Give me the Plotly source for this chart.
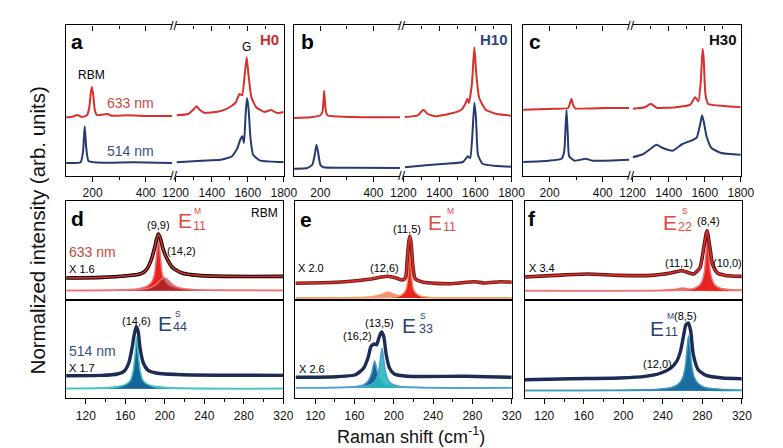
import plotly.graph_objects as go

W, H = 783, 448

# ---------------- DATA ----------------
# Top panels: Raman shift (cm-1) vs normalized intensity (arb. units); low- and high-frequency segments
a_red_lo_x = [100, 124, 142, 160, 178.5, 187, 193, 197, 202, 208, 216, 257.5, 269.5, 330, 415, 500]
a_red_lo_y = [58.4, 59, 60.7, 58.7, 60.4, 67.7, 82.7, 88.7, 81, 66, 60.7, 61.7, 60, 60.4, 59.7, 59.7]
a_red_hi_x = [1206, 1270, 1297, 1316, 1333, 1360, 1432, 1486, 1531, 1554, 1569, 1581, 1594, 1604, 1620, 1647, 1692, 1728, 1764, 1800]
a_red_hi_y = [60.4, 61.7, 66, 69.4, 66, 63, 64, 67, 72.7, 81.7, 80.4, 97.7, 118.4, 101, 78.4, 68.4, 63.7, 65.7, 62.7, 63.7]
a_blue_lo_x = [100, 154.5, 164, 170, 176, 185, 245.5, 354.5, 500]
a_blue_lo_y = [12.7, 13.4, 24.4, 49.4, 27.7, 14.4, 13, 13.4, 12.7]
a_blue_hi_x = [1206, 1343, 1450, 1513, 1543, 1558, 1570, 1579, 1588, 1595.5, 1604, 1615, 1629.5, 1665.5, 1773, 1800]
a_blue_hi_y = [13.4, 15, 16, 19.4, 27.7, 36, 39.4, 32.7, 61, 77.7, 67.7, 37.7, 21, 15.4, 13.7, 13.7]

b_red_lo_x = [100, 163.6, 200, 208.5, 214.5, 219.3, 226.5, 321, 500]
b_red_lo_y = [57.7, 58.4, 60.4, 64.4, 85, 67.7, 60.4, 58.7, 58.4]
b_red_hi_x = [1209, 1281, 1311, 1335, 1379, 1469, 1522, 1546, 1555, 1563.5, 1580, 1594, 1605, 1621, 1657, 1719, 1800]
b_red_hi_y = [58.7, 60.4, 66, 61.7, 59.4, 62.4, 66, 72.7, 77, 72.7, 91, 128.4, 101, 77.7, 66, 61.7, 60]
b_blue_lo_x = [100, 151.5, 170, 179, 185.5, 191.6, 200, 212, 321, 500]
b_blue_lo_y = [7, 7.7, 11, 21, 31, 23.7, 11, 8.4, 8, 7.7]
b_blue_hi_x = [1209, 1326, 1433, 1531, 1558, 1571, 1583, 1594, 1603, 1614, 1639, 1719, 1800]
b_blue_hi_y = [8.4, 10.4, 12, 13.7, 19.4, 17.7, 41, 72.7, 57.7, 21, 12, 9.7, 9]

c_red_lo_x = [100, 221, 270, 277, 282, 288, 296, 403, 500]
c_red_lo_y = [66, 67, 67.7, 72.7, 77, 71, 67.4, 67.7, 67.7]
c_red_hi_x = [1200, 1269, 1300, 1332, 1440, 1520, 1547, 1565, 1578, 1588, 1594, 1604, 1619, 1709, 1800]
c_red_hi_y = [67, 68.4, 72, 68, 68.4, 71, 78.4, 74.4, 94.4, 127, 117.7, 81, 71.7, 69.7, 68.4]
c_blue_lo_x = [100, 197, 245.5, 255, 260, 263.6, 268.5, 273.5, 294, 336, 361, 500]
c_blue_lo_y = [13.7, 15, 17, 24.4, 47.7, 66, 41, 19.4, 15, 17, 15, 16]
c_blue_hi_x = [1200, 1260, 1305, 1332, 1368, 1422, 1476, 1529, 1556, 1574, 1585, 1594, 1610, 1637, 1691, 1800]
c_blue_hi_y = [18.4, 21.7, 27.7, 31, 27.7, 25, 31.7, 35.4, 38.4, 51, 60.4, 54.4, 39.4, 27.7, 22.7, 21]

# Bottom panels (RBM region): measured spectra (envelopes) and fitted Lorentzian components
d_up_x = [100, 135.8, 161.9, 174.9, 181.4, 186.3, 189.6, 191.9, 193.5, 195.4, 198.4, 202.7, 207.6, 217.3, 233.6, 266.2, 320]
d_up_y = [12.7, 13.3, 15, 16.7, 21, 31, 42.7, 52.7, 56.7, 52.7, 41, 31, 23.3, 17.7, 15.3, 14.3, 14.3]
d_c99_x = [100, 160, 175, 183, 187, 189.5, 191.5, 193.5, 195.5, 197.5, 200, 204, 212, 227, 320]
d_c99_y = [0.3, 1, 2.3, 5, 9, 16, 34, 52, 34, 16, 9, 5, 2.3, 1, 0.3]
d_c142_x = [100, 170, 185, 191, 195, 199.5, 204, 208, 214, 230, 320]
d_c142_y = [0.2, 1, 3, 6, 10, 13, 10, 6, 3, 1, 0.2]
d_lo_x = [100, 135.8, 152.1, 158.6, 163.5, 166.8, 169, 171, 173, 174.9, 178.2, 183.1, 191.2, 217.3, 320]
d_lo_y = [13, 13.3, 14.7, 17.3, 25.7, 40.7, 54, 62.3, 57.3, 40.7, 25.7, 18.3, 15.7, 14, 13.3]
d_cbg_x = [100, 140, 155, 165, 172, 179, 189, 205, 320]
d_cbg_y = [0.3, 1, 2.5, 4, 5, 4, 2.5, 1, 0.3]
d_c146_x = [100, 150, 160, 165, 168, 170, 171.5, 173, 175, 178, 183, 193, 320]
d_c146_y = [0.2, 1.3, 4, 8, 18, 36, 52, 36, 18, 8, 4, 1.3, 0.2]

e_up_x = [100, 141.6, 174.4, 187.4, 194, 202.2, 208.7, 212, 213.6, 215.3, 216.3, 217.6, 219.3, 221.8, 230.1, 256.2, 282.4, 292.2, 308.6, 320]
e_up_y = [14.7, 15.7, 18.7, 21, 21.7, 20, 18, 20.7, 38.3, 56.7, 61.7, 55, 33.3, 19.3, 15.7, 14.3, 16.3, 15, 16.3, 15.7]
e_c126_x = [100, 170, 182, 188, 194, 200, 206, 218, 320]
e_c126_y = [0.1, 0.8, 2, 3.8, 6, 3.8, 2, 0.8, 0.1]
e_c115_x = [100, 195, 205, 210, 212.5, 214.3, 215.3, 216.3, 217.3, 218.3, 220.1, 222.6, 227.6, 237.6, 320]
e_c115_y = [0.1, 0.6, 1.9, 5, 9, 21, 39, 61, 39, 21, 9, 5, 1.9, 0.6, 0.1]
e_lo_x = [100, 141.6, 161.2, 169.4, 173.7, 176.9, 180.2, 182.5, 184.8, 187.4, 189.7, 192.3, 195.6, 200.5, 213.6, 272.5, 320]
e_lo_y = [10.7, 11.3, 13.3, 20, 30, 41.7, 44, 43.3, 50, 56, 51.7, 33.3, 20, 14, 11.7, 11.7, 10.7]
e_c162_x = [100, 160, 170, 174.5, 177.5, 179, 180.5, 182, 183.5, 186.5, 191, 201, 320]
e_c162_y = [0.2, 1.2, 3.5, 8, 15, 22, 27, 22, 15, 8, 3.5, 1.2, 0.2]
e_c135_x = [100, 170, 178, 182, 184.5, 186.5, 188, 189.5, 191.5, 194, 198, 206, 320]
e_c135_y = [0.2, 1.5, 4, 8.5, 16, 30, 40, 30, 16, 8.5, 4, 1.5, 0.2]

f_up_x = [100, 131, 163.5, 196, 228.6, 248.1, 259.5, 270.9, 277.4, 281.3, 284.6, 287.2, 290.4, 295.3, 303.4, 319.7]
f_up_y = [13.7, 15.3, 16.7, 15.3, 15.3, 17.7, 20, 16.7, 22.7, 42.7, 60, 46, 26, 17.7, 15.3, 14.3]
f_c111_x = [100, 240, 250, 255, 260, 265, 270, 280, 320]
f_c111_y = [0.05, 0.5, 1.1, 1.8, 2.7, 1.8, 1.1, 0.5, 0.1]
f_c84_x = [100, 262, 272, 277, 280, 282, 283.6, 285, 286.4, 288, 290, 293, 298, 308, 320]
f_c84_y = [0.1, 0.8, 2.5, 5.5, 10.5, 19, 37, 59, 37, 19, 10.5, 5.5, 2.5, 0.8, 0.4]
f_c100_x = [270, 285, 292, 297, 302, 309, 320]
f_c100_y = [0.3, 0.9, 1.6, 2.5, 1.6, 0.9, 0.4]
f_lo_x = [100, 147.2, 196, 222, 238.2, 248.1, 253.9, 257.8, 261.1, 263.3, 265.9, 268.2, 270.8, 275.7, 283.8, 300.1, 319.7]
f_lo_y = [11, 12, 12.7, 14.3, 17.7, 22.7, 29.3, 39.3, 56, 66, 67.7, 59.3, 36, 21, 15.3, 12.7, 12]
f_c120_x = [100, 230, 244, 250, 256, 262, 268, 282, 320]
f_c120_y = [0.1, 0.8, 2, 3.5, 5.5, 3.5, 2, 0.8, 0.2]
f_c85_x = [100, 235, 250, 257, 260.5, 263, 264.8, 266, 267.2, 269, 271.5, 275, 282, 297, 320]
f_c85_y = [0.2, 1.5, 3.5, 8, 14, 26, 45, 55, 45, 26, 14, 8, 3.5, 1.5, 0.5]

lo_ticks = [200, 400]
lo_minor = [300]
hi_ticks = [1200, 1400, 1600, 1800]
hi_minor = [1300, 1500, 1700]
rbm_ticks = [120, 160, 200, 240, 280, 320]
rbm_minor = [140, 180, 220, 260, 300]

# ---------------- STYLE ----------------
FONT = "Arial, Liberation Sans, sans-serif"
RED = "#d9302c"
BLUE = "#253b70"
FILL_RED = "rgba(232,36,32,1)"
LW = 1.4


def ak(c, n):
    return f"{c}axis" if n == 1 else f"{c}axis{n}"


def rf(c, n):
    return c if n == 1 else f"{c}{n}"


fig = go.Figure()
layout = {}

TOP_PY0, TOP_PY1 = 17.3, 167.7
top_starts = [46.7, 282.5, 520.0]
SEG_L, GAP, SEG_R = 110.0, 3.5, 112.0
top_range = [0, 150.4]

axis_common = dict(showgrid=False, zeroline=False, linecolor="black", linewidth=LW,
                   tickcolor="black", tickwidth=1,
                   tickfont=dict(family=FONT, size=12, color="#111"))

top_data = [
    (a_red_lo_x, a_red_lo_y, a_red_hi_x, a_red_hi_y, a_blue_lo_x, a_blue_lo_y, a_blue_hi_x, a_blue_hi_y),
    (b_red_lo_x, b_red_lo_y, b_red_hi_x, b_red_hi_y, b_blue_lo_x, b_blue_lo_y, b_blue_hi_x, b_blue_hi_y),
    (c_red_lo_x, c_red_lo_y, c_red_hi_x, c_red_hi_y, c_blue_lo_x, c_blue_lo_y, c_blue_hi_x, c_blue_hi_y),
]

breaks = []
for i, s in enumerate(top_starts):
    xl, xr, xlt, xrt = 1 + 4 * i, 2 + 4 * i, 3 + 4 * i, 4 + 4 * i
    yl, yr = 1 + 2 * i, 2 + 2 * i
    dl = [s / W, (s + SEG_L) / W]
    dr = [(s + SEG_L + GAP) / W, (s + SEG_L + GAP + SEG_R) / W]
    dy = [1 - TOP_PY1 / H, 1 - TOP_PY0 / H]
    breaks.append(s + SEG_L + GAP / 2)
    for (n, dom, yn, rng, tv, mv) in [(xl, dl, yl, [100, 500], lo_ticks, lo_minor),
                                      (xr, dr, yr, [1200, 1800], hi_ticks, hi_minor)]:
        layout[ak("x", n)] = dict(axis_common, domain=dom, anchor=rf("y", yn), range=rng,
                                  tickmode="array", tickvals=tv, ticks="outside", ticklen=5,
                                  minor=dict(tickvals=mv, ticks="outside", ticklen=3, tickcolor="black"),
                                  showline=True, ticklabelstandoff=1)
    for (n, base, yn, rng, tv, mv) in [(xlt, xl, yl, [100, 500], lo_ticks, lo_minor),
                                       (xrt, xr, yr, [1200, 1800], hi_ticks, hi_minor)]:
        layout[ak("x", n)] = dict(axis_common, overlaying=rf("x", base), anchor=rf("y", yn), side="top",
                                  range=rng, tickmode="array", tickvals=tv, ticks="inside", ticklen=5,
                                  minor=dict(tickvals=mv, ticks="inside", ticklen=3, tickcolor="black"),
                                  showticklabels=False, showline=True)
        fig.add_trace(go.Scatter(x=[], y=[], xaxis=rf("x", n), yaxis=rf("y", yn), showlegend=False))
    layout[ak("y", yl)] = dict(axis_common, domain=dy, anchor=rf("x", xl), range=top_range,
                               showline=True, showticklabels=False, ticks="")
    layout[ak("y", yr)] = dict(axis_common, domain=dy, anchor=rf("x", xr), range=top_range, side="right",
                               showline=True, showticklabels=False, ticks="")
    rlx, rly, rhx, rhy, blx, bly, bhx, bhy = top_data[i]
    for (xs, ys, c, xn, yn) in [(rlx, rly, RED, xl, yl), (rhx, rhy, RED, xr, yr),
                                (blx, bly, BLUE, xl, yl), (bhx, bhy, BLUE, xr, yr)]:
        fig.add_trace(go.Scatter(x=xs, y=ys, mode="lines", line=dict(color=c, width=2, shape="spline", smoothing=0.45),
                                 xaxis=rf("x", xn), yaxis=rf("y", yn), showlegend=False, hoverinfo="skip"))

# Bottom panels
bot_x = [(46.7, 271.7), (284.3, 508.3), (521.5, 746.7)]
UP_PY0, MID_PY, LO_PY1 = 193.3, 291.7, 390.0
up_ranges = [[-9, 89.4], [-1.7, 96.7], [-9, 89.4]]
lo_ranges = [[-9.3, 89], [-10, 88.3], [-7.3, 91]]

bottom = [
    dict(up=(d_up_x, d_up_y, "black", RED),
         up_comps=[(d_c99_x, d_c99_y, FILL_RED, "#f07070"), (d_c142_x, d_c142_y, "rgba(150,35,35,0.6)", "#f07070")],
         lo=(d_lo_x, d_lo_y),
         lo_comps=[(d_cbg_x, d_cbg_y, "rgba(43,181,181,0.85)", "#3cc4c4"), (d_c146_x, d_c146_y, "rgba(24,100,152,1)", "#3cc4c4")]),
    dict(up=(e_up_x, e_up_y, "#7a1b1b", RED),
         up_comps=[(e_c126_x, e_c126_y, "rgba(240,130,110,0.9)", "#f4a070"), (e_c115_x, e_c115_y, FILL_RED, "#f4a070")],
         lo=(e_lo_x, e_lo_y),
         lo_comps=[(e_c162_x, e_c162_y, "rgba(24,96,152,1)", "#4a9fd0"), (e_c135_x, e_c135_y, "rgba(40,185,185,0.9)", "#4a9fd0")]),
    dict(up=(f_up_x, f_up_y, "#5a1515", RED),
         up_comps=[(f_c111_x, f_c111_y, "rgba(240,110,100,0.9)", "#f07070"), (f_c100_x, f_c100_y, "rgba(240,110,100,0.9)", "#f07070"),
                   (f_c84_x, f_c84_y, FILL_RED, "#f07070")],
         lo=(f_lo_x, f_lo_y),
         lo_comps=[(f_c120_x, f_c120_y, "rgba(40,185,185,0.9)", "#3a9ab8"), (f_c85_x, f_c85_y, "rgba(26,108,162,1)", "#3a9ab8")]),
]

for i, (x0, x1) in enumerate(bot_x):
    xu, xd = 13 + 2 * i, 14 + 2 * i
    yu, yd = 7 + 2 * i, 8 + 2 * i
    dom = [x0 / W, x1 / W]
    layout[ak("x", xu)] = dict(axis_common, domain=dom, anchor=rf("y", yu), range=[100, 320], showline=True,
                               mirror=True, showticklabels=False, ticks="")
    layout[ak("x", xd)] = dict(axis_common, domain=dom, anchor=rf("y", yd), range=[100, 320], showline=True,
                               mirror=True, tickmode="array", tickvals=rbm_ticks, ticks="outside", ticklen=5,
                               minor=dict(tickvals=rbm_minor, ticks="outside", ticklen=3, tickcolor="black"),
                               ticklabelstandoff=1)
    layout[ak("y", yu)] = dict(axis_common, domain=[1 - MID_PY / H, 1 - UP_PY0 / H], anchor=rf("x", xu),
                               range=up_ranges[i], showline=True, mirror=True, showticklabels=False, ticks="")
    layout[ak("y", yd)] = dict(axis_common, domain=[1 - LO_PY1 / H, 1 - MID_PY / H], anchor=rf("x", xd),
                               range=lo_ranges[i], showline=True, mirror=True, showticklabels=False, ticks="")
    p = bottom[i]
    for (cx, cy, fc, lc) in p["up_comps"]:
        fig.add_trace(go.Scatter(x=cx, y=cy, mode="lines", fill="tozeroy", fillcolor=fc,
                                 line=dict(color=lc, width=1.5, shape="spline", smoothing=0.7),
                                 xaxis=rf("x", xu), yaxis=rf("y", yu), showlegend=False, hoverinfo="skip"))
    ux, uy, dotc, fitc = p["up"]
    fig.add_trace(go.Scatter(x=ux, y=uy, mode="lines", line=dict(color=dotc, width=3.6, shape="spline", smoothing=0.6),
                             xaxis=rf("x", xu), yaxis=rf("y", yu), showlegend=False, hoverinfo="skip"))
    fig.add_trace(go.Scatter(x=ux, y=uy, mode="lines", line=dict(color=fitc, width=1.6, shape="spline", smoothing=0.6),
                             xaxis=rf("x", xu), yaxis=rf("y", yu), showlegend=False, hoverinfo="skip"))
    for (cx, cy, fc, lc) in p["lo_comps"]:
        fig.add_trace(go.Scatter(x=cx, y=cy, mode="lines", fill="tozeroy", fillcolor=fc,
                                 line=dict(color=lc, width=1.5, shape="spline", smoothing=0.7),
                                 xaxis=rf("x", xd), yaxis=rf("y", yd), showlegend=False, hoverinfo="skip"))
    lx, ly = p["lo"]
    fig.add_trace(go.Scatter(x=lx, y=ly, mode="lines", line=dict(color="#1d2c55", width=3.4, shape="spline", smoothing=0.6),
                             xaxis=rf("x", xd), yaxis=rf("y", yd), showlegend=False, hoverinfo="skip"))

# ---------------- ANNOTATIONS ----------------
ann = []


def T(text, px, py, size=11, color="black", bold=False, xanchor="center", textangle=0):
    t = f"<b>{text}</b>" if bold else text
    ann.append(dict(text=t, x=px / W, y=1 - py / H, xref="paper", yref="paper", showarrow=False,
                    xanchor=xanchor, yanchor="middle",
                    font=dict(family=FONT, size=size, color=color), textangle=textangle))


def E(right_px, py, sup, sub, sup_xy, sub_xy, color):
    T("E", right_px + 1.5, py, 21, color, xanchor="right")
    T(sup, sup_xy[0] - 1, sup_xy[1], 8.5, color, xanchor="left")
    T(sub, sub_xy[0] - 1.5, sub_xy[1], 12.5, color, xanchor="left")


# break marks
for bx in breaks:
    T("//", bx, TOP_PY0, 13, "black")
    T("//", bx, TOP_PY1, 13, "black")

# top panels
T("a", 58, 33, 21, bold=True)
T("b", 296.7, 33, 21, bold=True)
T("c", 532, 34, 21, bold=True)
T("H0", 257.5, 31.7, 15, "#c6302b", bold=True)
T("H10", 490, 31.7, 15, "#2c4478", bold=True)
T("H30", 726.7, 31.7, 15, "#111", bold=True)
T("G", 234, 38.7, 12)
T("RBM", 72.5, 67, 12)
T("633 nm", 113, 95, 14, "#c84a3c")
T("514 nm", 113, 143, 14, "#3b4f82")

# panel d
T("d", 58, 211, 21, bold=True)
T("RBM", 252, 205, 12)
T("(9,9)", 142.5, 217.3, 11)
T("(14,2)", 166, 243.3, 11)
T("633 nm", 74, 244, 14, "#c84a3c")
T("X 1.6", 63, 260.7, 11)
E(177.3, 212.5, "M", "11", (178.3, 203), (177.3, 217.5), "#e04a3f")
T("(14,6)", 120, 313.3, 11)
T("514 nm", 74, 342.7, 14, "#3b4f82")
T("X 1.7", 63, 360, 11)
E(157.3, 315.5, "S", "44", (158.3, 306), (156.7, 318.5), "#2d4377")

# panel e
T("e", 295, 211.7, 21, bold=True)
T("(11,5)", 400, 220.7, 11)
T("(12,6)", 376.7, 260, 11)
T("X 2.0", 300.5, 260, 11)
E(436.7, 214.5, "M", "11", (440, 203), (436.7, 218.8), "#e04a3f")
T("(13,5)", 371.7, 315, 11)
T("(16,2)", 348.3, 328.3, 11)
T("X 2.6", 301, 361, 11)
E(410, 317, "S", "33", (411.7, 308), (411.7, 321), "#2d4377")

# panel f
T("f", 529, 210, 21, bold=True)
E(680, 214.5, "S", "22", (683.3, 203), (680, 219), "#e04a3f")
T("(8,4)", 711.7, 213.3, 11)
T("(11,1)", 681.7, 255, 11)
T("(10,0)", 731.7, 255, 11)
T("X 3.4", 540, 260, 11)
E(666.7, 320, "M", "11", (668.3, 308), (666.7, 323.5), "#2d4377")
T("(8,5)", 688, 308.3, 11)
T("(12,0)", 659, 356, 11)

# axis titles
T("Normalized intensity (arb. units)", 17, 222, 20.5, "#111", textangle=-90)
T("Raman shift (cm<sup>-1</sup>)", 404, 427, 18, "#111")

fig.update_layout(**layout)
fig.update_layout(width=W, height=H, margin=dict(l=0, r=0, t=0, b=0), paper_bgcolor="white",
                  plot_bgcolor="white", annotations=ann, showlegend=False,
                  font=dict(family=FONT, color="black"))

fig.write_html("out.html")
